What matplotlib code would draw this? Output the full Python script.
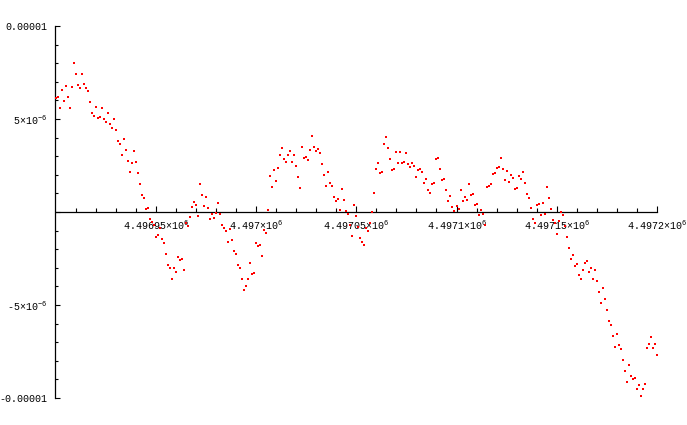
import numpy as np
import matplotlib
matplotlib.use('Agg')
import matplotlib.pyplot as plt
from matplotlib.ticker import FixedLocator, FixedFormatter

plt.rcParams['font.family'] = ['Liberation Mono', 'DejaVu Sans']
plt.rcParams['mathtext.fontset'] = 'custom'
plt.rcParams['mathtext.rm'] = 'Liberation Mono'
plt.rcParams['mathtext.it'] = 'Liberation Mono'
plt.rcParams['mathtext.bf'] = 'Liberation Mono'

# one sample per unit of x, starting at x_start
x_start = 4496900

# values in units of 1e-6
y_micro = [
    6.15, 6.18, 5.61, 6.58, 5.97, 6.79, 6.18, 5.61, 6.72, 8.03,
    7.44, 6.83, 6.68, 7.44, 6.88, 6.68, 6.52, 5.91, 5.34, 5.18,
    5.66, 5.07, 5.12, 5.61, 5.02, 4.86, 5.34, 4.75, 4.53, 5.02,
    4.43, 3.82, 3.67, 3.08, 3.94, 3.33, 2.76, 2.17, 2.63, 3.30,
    2.71, 2.11, 1.52, 0.93, 0.75, 0.18, 0.23, -0.38, -0.52, -0.72,
    -1.33, -1.24, -0.84,
    -1.43, -1.65, -2.24, -2.85, -2.99, -3.58, -2.99, -3.21, -2.40, -2.56,
    -2.51, -3.10, -0.57, -0.74, -0.25, 0.29, 0.54, 0.39, -0.20, 1.52,
    0.93, 0.34, 0.82, 0.23, -0.36, -0.09, -0.31, -0.04, 0.50, -0.09,
    -0.68, -0.84, -1.01, -1.60, -0.90, -1.49, -2.08, -2.24, -2.83, -2.99,
    -3.58, -4.18, -3.96, -3.58, -2.72, -3.32, -3.26, -1.65, -1.81,
    -1.76, -2.35, -0.95, -1.11, 0.12,
    1.95, 1.36, 2.28, 1.68, 2.38, 3.08, 3.46, 2.87, 2.71, 3.08,
    3.30, 2.71, 3.08, 2.49, 1.90, 1.31, 3.51, 2.92, 2.97, 2.81,
    3.35, 4.10, 3.51, 3.30, 3.40, 3.19, 2.60, 2.01, 1.41, 2.17,
    1.58, 1.41, 0.82, 0.61, 0.72, 0.12, 1.25, 0.66, 0.07, -0.09,
    -0.68, -1.27, 0.39, -0.20, -0.79,
    -1.38, -1.60, -1.76, -0.84, -1.00, -0.58, 0.02, 1.04,
    2.33, 2.65, 2.11, 2.17, 3.67, 4.05, 3.46, 2.87, 2.28, 2.33,
    3.24, 2.65, 3.24, 2.65, 2.71, 3.19, 2.60, 2.44, 2.65, 2.49,
    1.90, 2.28, 2.33, 2.17, 1.58, 1.79, 1.20, 1.04, 1.52, 1.58,
    2.87, 2.92, 2.33, 1.74, 1.79, 1.20, 0.61, 0.88, 0.29, 0.07,
    0.34, 0.18,
    1.20, 0.61, 0.82, 0.66, 1.52, 0.93, 0.98, 0.39, 0.45, -0.15,
    0.12, -0.09, -0.68, 1.36, 1.41, 1.52, 2.06, 2.11, 2.38, 2.44,
    2.92, 2.33, 1.74, 2.22, 1.63, 2.01, 1.84, 1.25, 1.31, 1.95,
    1.79, 2.17, 1.58, 0.98, 0.77, 0.23, -0.36, -0.57, 0.39, 0.45,
    -0.15, 0.50, -0.09, 1.36, 0.77, 0.18, -0.41, -0.57, -1.17, -0.47,
    0.02, -0.14, -0.74, -1.33, -1.92, -2.51, -2.29, -2.89, -2.78, -3.37,
    -3.58, -3.10, -2.72, -2.62, -3.21, -2.99, -3.58, -3.10, -3.69,
    -4.28, -4.87, -4.07, -4.66, -5.25, -5.84, -6.06, -6.65, -7.24, -6.54,
    -7.13, -7.35, -7.94, -8.53, -9.12, -8.21, -8.80, -8.96, -8.91, -9.50,
    -9.28, -9.88, -9.50, -9.23, -7.30, -7.08, -6.70, -7.30, -7.08, -7.67,
]

x_major = [4496950, 4497000, 4497050, 4497100, 4497150, 4497200]
x_labels = ['4.49695×10$^{6}$', '4.497×10$^{6}$', '4.49705×10$^{6}$',
            '4.4971×10$^{6}$', '4.49715×10$^{6}$', '4.4972×10$^{6}$']
y_major = [-1e-5, -5e-6, 0, 5e-6, 1e-5]
y_labels = ['-0.00001', '-5×10$^{-6}$', '', '5×10$^{-6}$', '0.00001']

y = np.array(y_micro) * 1e-6
x = np.arange(x_start, x_start + len(y))

fig = plt.figure(figsize=(6.87, 4.25), dpi=100)
ax = fig.add_axes([55.5 / 687, 27 / 425, 601.5 / 687, 372 / 425])

ax.plot(x, y, linestyle='none', marker='s', markersize=1.7, markeredgewidth=0,
        color='#ff0000', clip_on=False, zorder=3)

ax.set_xlim(4496900, 4497200)
ax.set_ylim(-1e-5, 1e-5)

ax.spines['top'].set_visible(False)
ax.spines['right'].set_visible(False)
ax.spines['bottom'].set_position(('data', 0))
for s in ['left', 'bottom']:
    ax.spines[s].set_linewidth(0.9)

ax.xaxis.set_major_locator(FixedLocator(x_major))
ax.xaxis.set_major_formatter(FixedFormatter(x_labels))
ax.xaxis.set_minor_locator(FixedLocator(np.arange(4496910, 4497200, 10)))
ax.yaxis.set_major_locator(FixedLocator(y_major))
ax.yaxis.set_major_formatter(FixedFormatter(y_labels))
ax.yaxis.set_minor_locator(FixedLocator(np.arange(-10, 11) * 1e-6))

ax.tick_params(axis='x', which='major', direction='in', length=4.5, width=0.8,
               pad=5, labelsize=7.2)
ax.tick_params(axis='x', which='minor', direction='in', length=3, width=0.8)
ax.tick_params(axis='y', which='major', direction='in', length=3.5, width=0.8,
               pad=6, labelsize=7.2)
ax.tick_params(axis='y', which='minor', direction='in', length=2.2, width=0.8)

fig.savefig('out.png', dpi=100)
